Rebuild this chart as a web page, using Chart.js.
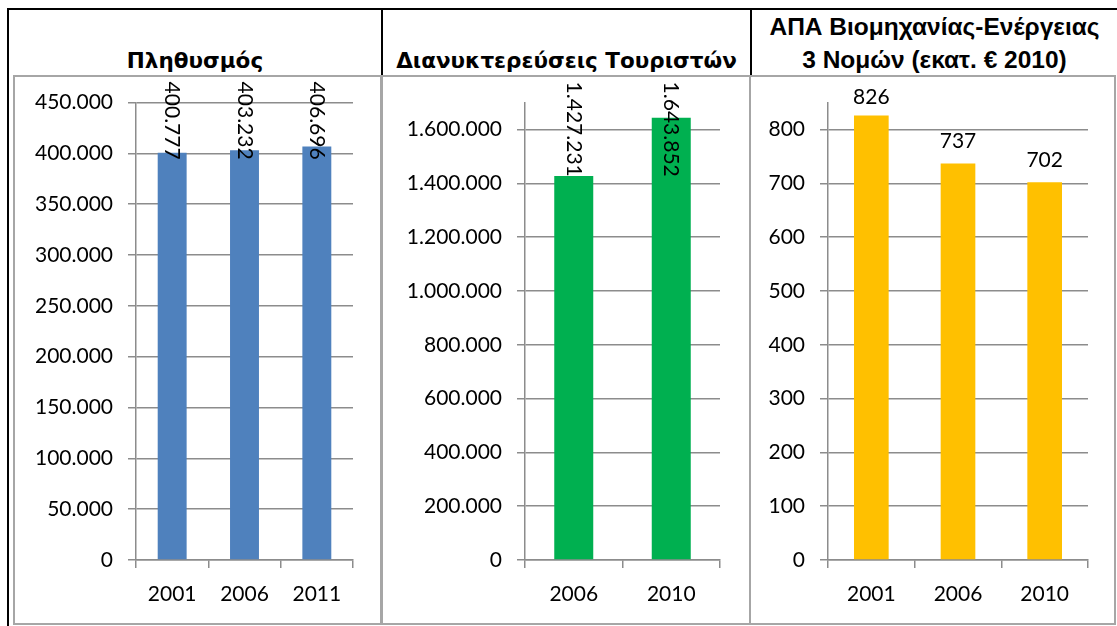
<!DOCTYPE html>
<html>
<head>
<meta charset="utf-8">
<script src="https://cdn.jsdelivr.net/npm/chart.js@4.4.0/dist/chart.umd.min.js"></script>
<style>
  body { margin: 0; background: #fff; }
  #page { position: relative; width: 1117px; height: 626px; overflow: hidden; }
  .blk { position: absolute; background: #000; }
  .box { position: absolute; top: 75px; height: 550px; border: 2px solid #a6a6a6; box-sizing: border-box; pointer-events: none; }
  .chart { position: absolute; top: 75px; height: 550px; }
  .title { position: absolute; text-align: center; font-weight: bold; color: #000; white-space: nowrap; }
  .t12 { top: 44px; font-family: "DejaVu Sans", sans-serif; font-size: 21.5px; line-height: 33px; }
  .t3 { top: 10px; font-family: "Liberation Sans", Arial, sans-serif; font-size: 24.5px; line-height: 33px; }
</style>
</head>
<body>
<div id="page">
  <div class="blk" style="left:7px; top:8px; width:1110px; height:2px;"></div>
  <div class="blk" style="left:7px; top:8px; width:2px; height:618px;"></div>
  <div class="blk" style="left:381px; top:8px; width:2px; height:67px;"></div>
  <div class="blk" style="left:750px; top:8px; width:2px; height:67px;"></div>

  <div class="title t12" style="left:9px; width:372px;">Πληθυσμός</div>
  <div class="title t12" style="left:383px; width:367px;">Διανυκτερεύσεις Τουριστών</div>
  <div class="title t3" style="left:752px; width:365px;">ΑΠΑ Βιομηχανίας-Ενέργειας<br>3 Νομών (εκατ. € 2010)</div>

  <div class="chart" style="left:13px; width:368px;"><canvas id="c1"></canvas></div>
  <div class="chart" style="left:381px; width:369px;"><canvas id="c2"></canvas></div>
  <div class="chart" style="left:750px; width:366px;"><canvas id="c3"></canvas></div>

  <div class="box" style="left:13px; width:370px;"></div>
  <div class="box" style="left:380px; width:371px;"></div>
  <div class="box" style="left:749px; width:367px;"></div>
</div>
<script>
// data
const popYears = ['2001', '2006', '2011'];
const popValues = [400777, 403232, 406696];
const popMax = 450000;
const popStep = 50000;

const touristYears = ['2006', '2010'];
const touristValues = [1427231, 1643852];
const touristMax = 1700000;
const touristStep = 200000;

const gvaYears = ['2001', '2006', '2010'];
const gvaValues = [826, 737, 702];
const gvaMax = 850;
const gvaStep = 100;

const FONT = { family: 'Lato, "Open Sans", sans-serif', size: 21 };
const GRID = '#8c8c8c';

function fmt(v) {
    return String(v).replace(/\B(?=(\d{3})+(?!\d))/g, '.');
}

// value labels above bars, optionally rotated like in the original sheet
const barLabels = {
    id: 'barLabels',
    afterDatasetsDraw(chart, args, opts) {
        const ctx = chart.ctx;
        const area = chart.chartArea;
        const meta = chart.getDatasetMeta(0);
        const data = chart.data.datasets[0].data;
        ctx.save();
        ctx.font = FONT.size + 'px ' + FONT.family;
        ctx.fillStyle = '#000';
        meta.data.forEach((bar, i) => {
            const text = fmt(data[i]);
            if (opts.rotate) {
                const w = ctx.measureText(text).width;
                const y = Math.max(bar.y - 4 - w, area.top - 21);
                ctx.save();
                ctx.translate(bar.x, y);
                ctx.rotate(Math.PI / 2);
                ctx.textAlign = 'left';
                ctx.textBaseline = 'middle';
                ctx.fillText(text, 0, 0);
                ctx.restore();
            } else {
                ctx.textAlign = 'center';
                ctx.textBaseline = 'middle';
                ctx.fillText(text, bar.x, Math.max(bar.y - 22, area.top - 5));
            }
        });
        ctx.restore();
    }
};

function makeChart(id, labels, values, color, max, step, yWidth, rightPad, rotate) {
    new Chart(document.getElementById(id), {
        type: 'bar',
        data: {
            labels: labels,
            datasets: [{
                data: values,
                backgroundColor: color,
                borderWidth: 0,
                barPercentage: 0.4,
                categoryPercentage: 1
            }]
        },
        options: {
            responsive: true,
            maintainAspectRatio: false,
            animation: false,
            layout: { padding: { top: 27, right: rightPad, left: 0, bottom: 0 } },
            plugins: {
                legend: { display: false },
                tooltip: { enabled: false },
                barLabels: { rotate: rotate }
            },
            scales: {
                x: {
                    grid: { drawOnChartArea: false, color: GRID, lineWidth: 1.5, tickLength: 8, offset: true },
                    border: { color: GRID, width: 1.5 },
                    ticks: { color: '#000', font: FONT, padding: 14, maxRotation: 0 },
                    afterFit(scale) { scale.height = 65; }
                },
                y: {
                    min: 0,
                    max: max,
                    grid: { color: GRID, lineWidth: 1.5, tickLength: 8 },
                    border: { color: GRID, width: 1.5 },
                    ticks: { color: '#000', font: FONT, padding: 15, callback: v => fmt(v) },
                    afterBuildTicks(scale) {
                        const ticks = [];
                        for (let v = 0; v <= max; v += step) ticks.push({ value: v });
                        scale.ticks = ticks;
                    },
                    afterFit(scale) { scale.width = yWidth; }
                }
            }
        },
        plugins: [barLabels]
    });
}

makeChart('c1', popYears, popValues, '#4F81BD', popMax, popStep, 123, 28, true);
makeChart('c2', touristYears, touristValues, '#00B050', touristMax, touristStep, 144, 30, true);
makeChart('c3', gvaYears, gvaValues, '#FFC000', gvaMax, gvaStep, 78, 28, false);
</script>
</body>
</html>
